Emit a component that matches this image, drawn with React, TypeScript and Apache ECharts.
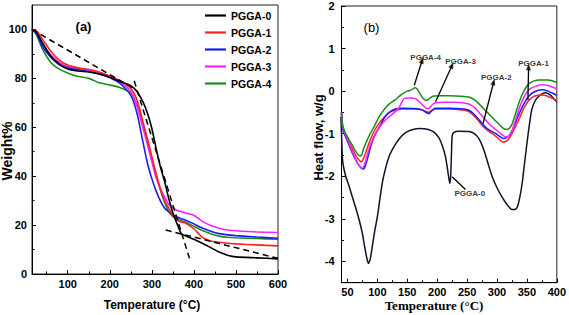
import React, { useEffect, useRef } from "react";
import * as echarts from "echarts";

// ---------- Panel (a): TGA ----------
const tempA = [15, 25, 40, 60, 80, 100, 125, 150, 175, 200, 225, 250, 265, 280, 290, 300, 310, 320, 330, 340, 350, 360, 370, 380, 400, 420, 440, 460, 480, 500, 550, 600];
const weight0 = [100, 99, 94.5, 89, 85.8, 83.8, 83, 82.6, 81.8, 80.5, 78.6, 77, 74.5, 70, 65.5, 59.5, 51.5, 44, 38, 31, 25, 20.5, 16.5, 15.6, 14.2, 12.6, 10.8, 9, 7.7, 7, 6.6, 6.2];
const weight1 = [100, 99.5, 96, 91, 87.5, 85.5, 84.3, 83.6, 82.6, 81, 79, 75.8, 71, 61.5, 55, 48, 41, 35, 30, 27, 24, 22, 21.3, 20.8, 18.5, 15, 13.5, 13, 12.6, 12.3, 11.9, 11.5];
const weight2 = [100, 98.5, 93, 88.5, 85.5, 84.2, 83.5, 82.8, 81.8, 80.3, 77.8, 73, 65.5, 53, 45, 39, 34, 30, 27, 25.5, 24.3, 23.3, 22.6, 22, 20.5, 18.8, 17.5, 16.5, 16, 15.7, 15.1, 14.6];
const weight3 = [100, 98.8, 94, 89.5, 86.5, 84.8, 84, 83.4, 82.3, 80.8, 78.5, 74.5, 68.5, 59, 52.5, 46, 39.5, 35, 31.5, 28.5, 27, 26, 25.5, 25, 24, 21.5, 19.8, 18.7, 18, 17.7, 17.2, 17];
const weight4 = [100, 98, 92, 86.5, 83.8, 82.2, 80.8, 80, 78.2, 77.3, 76.2, 74, 69, 60.5, 54, 47, 41, 34.5, 29.5, 25.5, 23.5, 22.5, 21.8, 21.2, 19.5, 17.8, 16.5, 15.5, 15, 14.8, 14.5, 14.2];
const tangentA1 = [[15, 100], [256, 76]];
const tangentA2 = [[258, 79], [392, 5]];
const tangentA3 = [[333, 18], [600, 6.4]];
const seriesNames = ["PGGA-0", "PGGA-1", "PGGA-2", "PGGA-3", "PGGA-4"];
const colors = ["#000000", "#ff2020", "#1a1aff", "#ff20ff", "#1a8c1a"];
const xTicksA = [100, 200, 300, 400, 500, 600];
const xMinorA = [50, 150, 250, 350, 450, 550];
const yTicksA = [0, 20, 40, 60, 80, 100];
const yMinorA = [10, 30, 50, 70, 90];

// ---------- Panel (b): DSC ----------
const dsc0 = [[39, -0.6], [40.5, -1.2], [42, -1.65], [47, -2.0], [52, -2.2], [58, -2.48], [64, -2.75], [70, -3.05], [75, -3.35], [78, -3.6], [82, -3.9], [85, -4.05], [88, -3.95], [92, -3.6], [96, -3.25], [100, -2.95], [104, -2.55], [108, -2.17], [113, -1.85], [120, -1.52], [128, -1.3], [136, -1.13], [145, -1.0], [155, -0.92], [170, -0.88], [185, -0.9], [195, -0.97], [203, -1.1], [209, -1.3], [214, -1.55], [218, -1.9], [221, -2.17], [222.5, -2.0], [224, -1.4], [225, -1.05], [228, -0.97], [236, -0.94], [253, -0.95], [262, -1.0], [270, -1.12], [278, -1.38], [285, -1.7], [292, -2.01], [300, -2.27], [308, -2.48], [316, -2.65], [325, -2.78], [330, -2.78], [334, -2.72], [338, -2.5], [342, -2.17], [346, -1.7], [350, -1.23], [354, -0.8], [358, -0.44], [364, -0.22], [370, -0.12], [380, -0.04], [389, -0.09], [397, -0.21], [400, -0.25]];
const dsc1 = [[40, -0.5], [42, -0.85], [46, -1.0], [52, -1.18], [58, -1.35], [64, -1.52], [70, -1.63], [73, -1.66], [77, -1.58], [82, -1.38], [88, -1.15], [95, -0.93], [103, -0.75], [112, -0.6], [120, -0.5], [130, -0.45], [142, -0.42], [160, -0.42], [175, -0.44], [181, -0.48], [186, -0.5], [191, -0.45], [197, -0.42], [220, -0.42], [245, -0.45], [253, -0.48], [260, -0.56], [268, -0.68], [275, -0.8], [282, -0.9], [290, -0.98], [298, -1.06], [305, -1.15], [310, -1.2], [315, -1.18], [320, -1.12], [325, -1.0], [332, -0.8], [338, -0.62], [345, -0.4], [353, -0.22], [362, -0.12], [375, -0.09], [385, -0.12], [393, -0.17], [400, -0.22]];
const dsc2 = [[40, -0.5], [42, -0.9], [46, -1.05], [52, -1.25], [58, -1.45], [64, -1.62], [70, -1.76], [76, -1.83], [80, -1.75], [85, -1.5], [90, -1.25], [97, -1.0], [105, -0.8], [112, -0.62], [120, -0.5], [130, -0.42], [142, -0.4], [160, -0.41], [175, -0.44], [181, -0.5], [186, -0.53], [191, -0.46], [197, -0.4], [220, -0.4], [245, -0.42], [253, -0.45], [260, -0.52], [268, -0.64], [275, -0.76], [282, -0.86], [290, -0.94], [298, -1.0], [305, -1.07], [310, -1.11], [315, -1.1], [320, -1.05], [325, -0.93], [332, -0.7], [338, -0.5], [345, -0.3], [353, -0.12], [362, -0.02], [375, 0.03], [385, 0.0], [393, -0.05], [400, -0.1]];
const dsc3 = [[40, -0.5], [42, -0.85], [46, -1.0], [52, -1.2], [58, -1.42], [64, -1.62], [70, -1.76], [75, -1.81], [79, -1.7], [84, -1.45], [90, -1.2], [97, -0.99], [105, -0.82], [112, -0.7], [120, -0.6], [130, -0.48], [135, -0.42], [140, -0.28], [145, -0.17], [155, -0.16], [164, -0.18], [170, -0.25], [176, -0.33], [181, -0.4], [186, -0.41], [191, -0.33], [196, -0.28], [210, -0.26], [230, -0.26], [253, -0.3], [262, -0.38], [270, -0.5], [278, -0.63], [286, -0.76], [295, -0.87], [303, -0.96], [310, -1.04], [315, -1.08], [320, -1.05], [325, -0.95], [330, -0.72], [338, -0.37], [345, -0.14], [353, 0.03], [362, 0.1], [375, 0.15], [388, 0.12], [400, 0.05]];
const dsc4 = [[40, -0.5], [42, -0.8], [46, -0.97], [52, -1.12], [58, -1.27], [64, -1.42], [70, -1.52], [73, -1.52], [77, -1.35], [82, -1.18], [88, -1.0], [95, -0.82], [103, -0.6], [112, -0.42], [120, -0.3], [130, -0.2], [140, -0.08], [150, 0.0], [157, 0.03], [163, 0.08], [167, 0.04], [172, -0.08], [177, -0.18], [182, -0.22], [187, -0.17], [193, -0.12], [205, -0.11], [220, -0.11], [240, -0.12], [253, -0.14], [262, -0.2], [270, -0.3], [278, -0.42], [286, -0.53], [295, -0.66], [303, -0.77], [310, -0.87], [315, -0.9], [320, -0.88], [325, -0.78], [330, -0.57], [338, -0.22], [345, 0.0], [353, 0.17], [362, 0.24], [370, 0.26], [385, 0.26], [393, 0.24], [400, 0.2]];
const annotNames = ["PGGA-4", "PGGA-3", "PGGA-2", "PGGA-1", "PGGA-0"];
const annotFrom = [[161.7, 0.14], [197.3, -0.25], [276.7, -0.76], [351.7, -0.21], [225, -2.01]];
const annotTo = [[175, 0.73], [225, 0.61], [294.5, 0.22], [352.8, 0.57], [247.3, -2.31]];
const annotLabel = [[180.7, 0.8], [239, 0.69], [298.7, 0.33], [361, 0.64], [254.5, -2.4]];
const annotArrow = [true, true, true, true, false];
const xTicksB = [50, 100, 150, 200, 250, 300, 350, 400];
const xMinorB = [75, 125, 175, 225, 275, 325, 375];
const yTicksB = [-4, -3, -2, -1, 0, 1, 2];
const yMinorB = [-3.5, -2.5, -1.5, -0.5, 0.5, 1.5];

const sans = "'Liberation Sans', Arial, sans-serif";
const serif = "'Liberation Serif', 'Times New Roman', serif";

function majorAxis(grid: number, min: number, max: number, ticks: number[], pos: string, margin: number) {
  return {
    type: "value", gridIndex: grid, min, max, position: pos,
    axisLine: { show: true, onZero: false, lineStyle: { color: "#000", width: 1 } },
    axisTick: { show: true, inside: true, length: 4, customValues: ticks, lineStyle: { color: "#000" } },
    axisLabel: { show: true, customValues: ticks, margin, color: "#000", fontSize: 11, fontWeight: "bold", fontFamily: sans },
    splitLine: { show: false },
  };
}
function minorAxis(grid: number, min: number, max: number, ticks: number[], pos: string) {
  return {
    type: "value", gridIndex: grid, min, max, position: pos,
    axisLine: { show: false, onZero: false },
    axisTick: { show: true, inside: true, length: 2.5, customValues: ticks, lineStyle: { color: "#000" } },
    axisLabel: { show: false },
    splitLine: { show: false },
  };
}

function buildOption() {
  const weights = [weight0, weight1, weight2, weight3, weight4];
  const dscs = [dsc0, dsc1, dsc2, dsc3, dsc4];
  const series: any[] = [];
  weights.forEach((w, i) => {
    series.push({
      type: "line", name: seriesNames[i], xAxisIndex: 0, yAxisIndex: 0,
      data: tempA.map((t, k) => [t, w[k]]), showSymbol: false, symbol: "none",
      smooth: 0.25, lineStyle: { color: colors[i], width: 1.6 }, itemStyle: { color: colors[i] }, z: 5 - i + 2,
    });
  });
  [tangentA1, tangentA2, tangentA3].forEach((d, i) => {
    series.push({
      type: "line", name: "tangent" + i, xAxisIndex: 0, yAxisIndex: 0, data: d, showSymbol: false, symbol: "none",
      lineStyle: { color: "#000", width: 1.5, type: [6, 4] }, z: 10,
    });
  });
  dscs.forEach((d, i) => {
    series.push({
      type: "line", name: seriesNames[i] + " DSC", xAxisIndex: 2, yAxisIndex: 2,
      data: d, showSymbol: false, symbol: "none", smooth: 0.2,
      lineStyle: { color: i === 0 ? "#10102a" : colors[i], width: 1.5 }, z: 3,
    });
  });
  series.push({
    type: "scatter", name: "annotations", xAxisIndex: 2, yAxisIndex: 2, symbolSize: 0, silent: true, z: 8,
    data: annotNames.map((n, i) => ({ name: n, value: annotLabel[i] })),
    label: { show: true, position: "inside", formatter: "{b}", fontSize: 8, fontWeight: "bold", color: "#000", fontFamily: sans },
  });
  // arrow shafts
  annotNames.forEach((n, i) => {
    series.push({
      type: "line", name: "arrow " + n, xAxisIndex: 2, yAxisIndex: 2, z: 9,
      data: [annotFrom[i].slice(), annotTo[i].slice()], showSymbol: false, symbol: "none",
      lineStyle: { color: "#000", width: 1.3, opacity: 1 },
    });
  });
  // arrow heads (rotation from the on-screen direction of each shaft)
  const pxPerX = 216.5 / 360;
  const pxPerY = 276.7 / 6.5;
  series.push({
    type: "scatter", name: "arrow heads", xAxisIndex: 2, yAxisIndex: 2, silent: true, z: 10,
    data: annotNames.map((n, i) => {
      const dx = (annotTo[i][0] - annotFrom[i][0]) * pxPerX;
      const dy = (annotTo[i][1] - annotFrom[i][1]) * pxPerY;
      const ang = (Math.atan2(dy, dx) * 180) / Math.PI - 90;
      return {
        value: annotTo[i].slice(),
        symbol: "triangle",
        symbolSize: annotArrow[i] ? [5, 7] : 0,
        symbolRotate: ang,
        itemStyle: { color: "#000" },
      };
    }),
  });

  const titleText = (text: string, x: number, y: number, size: number, rotate: boolean, family: string, weight = "bold") => ({
    type: "text", x, y, rotation: rotate ? Math.PI / 2 : 0,
    style: { text, align: "center", verticalAlign: "middle", fontSize: size, fontWeight: weight, fontFamily: family, fill: "#000" },
  });

  return {
    animation: false,
    backgroundColor: "#fff",
    grid: [
      { left: 32, top: 5, width: 246, height: 269, show: true, borderColor: "#222", borderWidth: 1, backgroundColor: "transparent" },
      { left: 341.5, top: 6, width: 216.5, height: 276.7, show: true, borderColor: "#222", borderWidth: 1, backgroundColor: "transparent" },
    ],
    xAxis: [
      majorAxis(0, 15, 600, xTicksA, "bottom", 4),
      minorAxis(0, 15, 600, xMinorA, "bottom"),
      majorAxis(1, 40, 400, xTicksB, "bottom", 4),
      minorAxis(1, 40, 400, xMinorB, "bottom"),
    ],
    yAxis: [
      majorAxis(0, 0, 110, yTicksA, "left", 5),
      minorAxis(0, 0, 110, yMinorA, "left"),
      majorAxis(1, -4.5, 2, yTicksB, "left", 7),
      minorAxis(1, -4.5, 2, yMinorB, "left"),
    ],
    legend: {
      data: seriesNames, orient: "vertical", left: 205, top: 9.5, padding: 0,
      icon: "rect", itemWidth: 21, itemHeight: 2.2, itemGap: 5,
      textStyle: { fontSize: 10.5, fontWeight: "bold", color: "#000", fontFamily: sans, lineHeight: 12 },
    },
    graphic: [
      titleText("Weight%", 7, 151, 14, true, sans),
      titleText("Temperature (°C)", 152, 305, 12, false, sans),
      titleText("Heat flow, w/g", 318, 137.5, 13, true, sans),
      titleText("Temperature (°C)", 434, 305, 13, false, serif),
      titleText("(a)", 83.5, 26, 13, false, sans),
      titleText("(b)", 371.5, 27.5, 13, false, sans, "normal"),
    ],
    series,
  };
}

export default function App() {
  const ref = useRef<HTMLDivElement>(null);
  useEffect(() => {
    const chart = echarts.init(ref.current!, undefined, { renderer: "svg" });
    chart.setOption(buildOption() as any);
    return () => chart.dispose();
  }, []);
  return (
    <div
      ref={ref}
      style={{ position: "fixed", left: 0, top: 0, width: 569, height: 315, background: "#fff" }}
    />
  );
}
